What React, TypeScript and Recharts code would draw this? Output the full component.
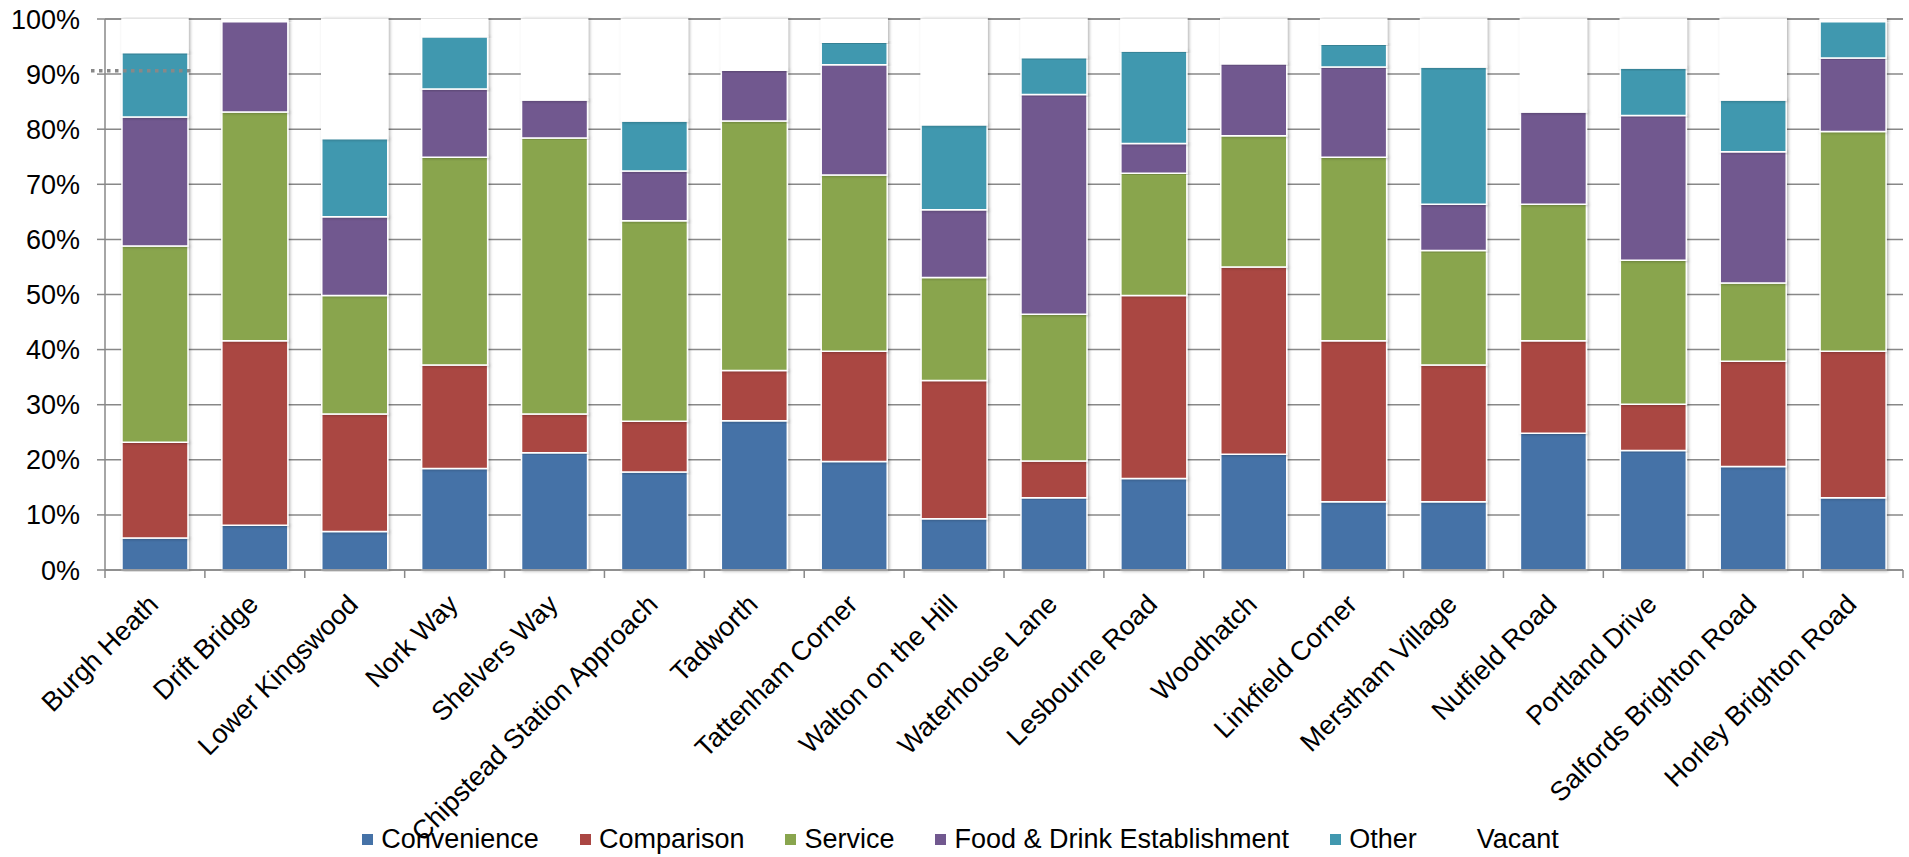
import { BarChart, Bar, XAxis, YAxis, CartesianGrid, Legend, ReferenceLine, Rectangle } from 'recharts';

const CATEGORIES = [
  'Burgh Heath', 'Drift Bridge', 'Lower Kingswood', 'Nork Way', 'Shelvers Way',
  'Chipstead Station Approach', 'Tadworth', 'Tattenham Corner', 'Walton on the Hill',
  'Waterhouse Lane', 'Lesbourne Road', 'Woodhatch', 'Linkfield Corner', 'Merstham Village',
  'Nutfield Road', 'Portland Drive', 'Salfords Brighton Road', 'Horley Brighton Road',
];

const CONVENIENCE = [5.8, 8.1, 7.0, 18.4, 21.3, 17.8, 27.1, 19.7, 9.3, 13.1, 16.6, 21.0, 12.4, 12.4, 24.8, 21.7, 18.8, 13.1];
const COMPARISON = [17.4, 33.5, 21.3, 18.8, 7.0, 9.2, 9.1, 20.0, 25.1, 6.7, 33.2, 34.0, 29.2, 24.8, 16.8, 8.4, 19.1, 26.6];
const SERVICE = [35.6, 41.5, 21.5, 37.7, 50.1, 36.4, 45.3, 32.0, 18.7, 26.6, 22.2, 23.8, 33.3, 20.8, 24.8, 26.1, 14.2, 39.9];
const FOOD_DRINK = [23.4, 16.4, 14.3, 12.4, 6.9, 9.0, 9.2, 20.0, 12.3, 39.9, 5.4, 13.1, 16.4, 8.4, 16.7, 26.3, 23.8, 13.3];
const OTHER = [11.7, 0, 14.2, 9.5, 0, 9.1, 0, 4.1, 15.4, 6.7, 16.8, 0, 4.1, 24.9, 0, 8.6, 9.4, 6.6];
const VACANT = [6.1, 0.5, 21.7, 3.2, 14.7, 18.5, 9.3, 4.2, 19.2, 7.0, 5.8, 8.1, 4.6, 8.7, 16.9, 8.9, 14.7, 0.5];

const Y_TICKS = [0, 10, 20, 30, 40, 50, 60, 70, 80, 90, 100];
const MARKER_LEVEL = 90.6;

const SERIES = [
  { key: 'convenience', label: 'Convenience', color: '#4572A7' },
  { key: 'comparison', label: 'Comparison', color: '#AA4643' },
  { key: 'service', label: 'Service', color: '#89A54E' },
  { key: 'foodDrink', label: 'Food & Drink Establishment', color: '#71588F' },
  { key: 'other', label: 'Other', color: '#4198AF' },
  { key: 'vacant', label: 'Vacant', color: '#FFFFFF' },
];

const data = CATEGORIES.map((name, i) => ({
  name,
  convenience: CONVENIENCE[i],
  comparison: COMPARISON[i],
  service: SERVICE[i],
  foodDrink: FOOD_DRINK[i],
  other: OTHER[i],
  vacant: VACANT[i],
}));

const FONT = '"Liberation Sans", Arial, sans-serif';
const AXIS_GRAY = '#888888';

function CategoryTick(props: any) {
  const { x, y, payload, index } = props;
  const half = payload && payload.offset ? payload.offset : 50;
  const isLast = index === CATEGORIES.length - 1;
  return (
    <g>
      <line x1={x - half} y1={y} x2={x - half} y2={y + 8} stroke={AXIS_GRAY} strokeWidth={1.5} />
      {isLast && <line x1={x + half} y1={y} x2={x + half} y2={y + 8} stroke={AXIS_GRAY} strokeWidth={1.5} />}
      <text
        transform={`translate(${x + 5},${y + 36}) rotate(-45)`}
        textAnchor="end"
        fontSize={27}
        fontFamily={FONT}
        fill="#000"
      >
        {payload.value}
      </text>
    </g>
  );
}

function LegendContent() {
  return (
    <div
      style={{
        height: 36,
        display: 'flex',
        justifyContent: 'center',
        alignItems: 'center',
        fontFamily: FONT,
        fontSize: 27,
        color: '#000',
        paddingLeft: 18,
      }}
    >
      {SERIES.map((s, i) => (
        <div key={s.key} style={{ display: 'flex', alignItems: 'center', marginLeft: i === 0 ? 0 : 41 }}>
          <span style={{ width: 11, height: 11, background: s.color, marginRight: 8, display: 'inline-block', flexShrink: 0 }} />
          <span>{s.label}</span>
        </div>
      ))}
    </div>
  );
}

function ShadowBar(props: any) {
  return <Rectangle {...props} filter="url(#barShadow)" />;
}

export default function App() {
  return (
    <div style={{ position: 'absolute', left: 0, top: 0, width: 1909, height: 857, background: '#fff' }}>
      <BarChart
        width={1909}
        height={857}
        data={data}
        margin={{ top: 19, right: 6, left: 0, bottom: 0 }}
        barCategoryGap="17%"
      >
        <defs>
          <filter id="barShadow" x="-20%" y="-5%" width="140%" height="110%">
            <feDropShadow dx="1.5" dy="0.5" stdDeviation="1.6" floodColor="#000" floodOpacity="0.3" />
          </filter>
        </defs>
        <CartesianGrid vertical={false} stroke={AXIS_GRAY} strokeWidth={1.5} />
        <XAxis
          dataKey="name"
          interval={0}
          height={251}
          tickSize={0}
          tickMargin={0}
          axisLine={{ stroke: AXIS_GRAY, strokeWidth: 1.5 }}
          tickLine={false}
          tick={<CategoryTick />}
        />
        <YAxis
          width={105}
          domain={[0, 100]}
          ticks={Y_TICKS}
          interval={0}
          tickFormatter={(v: number) => `${v}%`}
          tickSize={8}
          tickMargin={17}
          axisLine={{ stroke: AXIS_GRAY, strokeWidth: 1.5 }}
          tickLine={{ stroke: AXIS_GRAY, strokeWidth: 1.5 }}
          tick={{ fontSize: 27, fontFamily: FONT, fill: '#000' }}
        />
        <Legend verticalAlign="bottom" content={<LegendContent />} />
        {SERIES.map((s) => (
          <Bar
            key={s.key}
            dataKey={s.key}
            name={s.label}
            stackId="a"
            fill={s.color}
            stroke="#ffffff"
            strokeWidth={1.5}
            shape={<ShadowBar />}
            isAnimationActive={false}
          />
        ))}
        <ReferenceLine
          y={MARKER_LEVEL}
          ifOverflow="visible"
          shape={(p: any) => (
            <line
              x1={p.x1 - 14}
              y1={p.y1}
              x2={p.x1 + 90}
              y2={p.y2}
              stroke={AXIS_GRAY}
              strokeWidth={3.5}
              strokeDasharray="3.5 4.5"
            />
          )}
        />
      </BarChart>
    </div>
  );
}
